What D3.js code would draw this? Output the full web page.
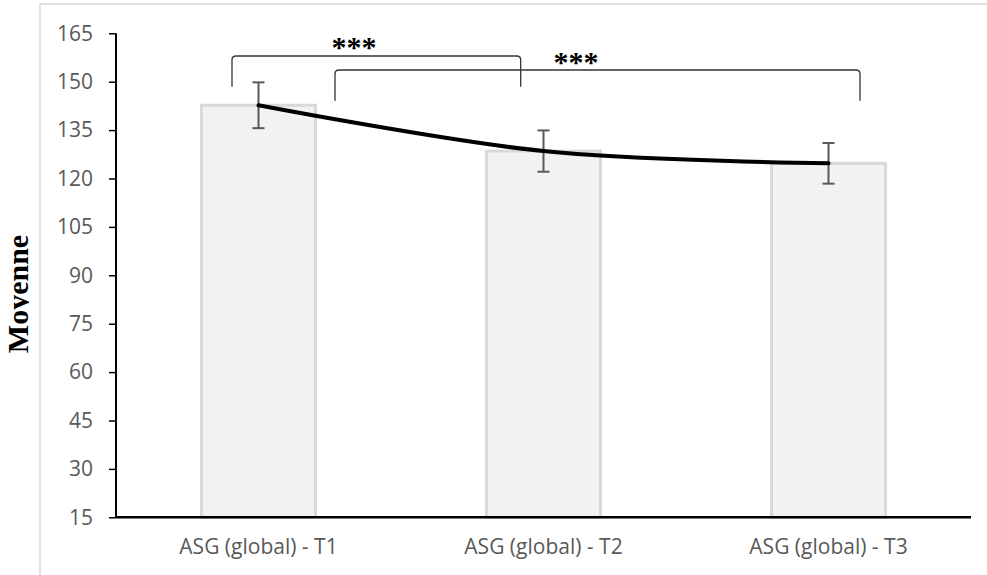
<!DOCTYPE html>
<html>
<head>
<meta charset="utf-8">
<script src="https://cdn.jsdelivr.net/npm/d3@7"></script>
<style>
  html, body { margin: 0; padding: 0; background: #ffffff; }
  svg { display: block; }
</style>
</head>
<body>
<svg id="chart" width="987" height="575"></svg>
<script>
// ---- data ----
const categories = ["ASG (global) - T1", "ASG (global) - T2", "ASG (global) - T3"];
const means = [142.7, 128.5, 124.7];
const errors = [7.1, 6.4, 6.3];
const yTicks = [15, 30, 45, 60, 75, 90, 105, 120, 135, 150, 165];
const brackets = [
  { from: 0, to: 1, label: "***" },
  { from: 0, to: 2, label: "***" }
];
const yTitle = "Moyenne";

// ---- layout ----
const svg = d3.select("#chart");
const plotLeft = 116, plotRight = 971, plotTop = 33.3, plotBottom = 517.3;

// outer chart border
svg.append("rect").attr("x", 40).attr("y", 4).attr("width", 1000).attr("height", 700)
  .attr("fill", "#fff").attr("stroke", "#d9d9d9").attr("stroke-width", 1.5);

const x = d3.scaleBand().domain(categories).range([plotLeft, plotRight]).padding(0);
const y = d3.scaleLinear().domain([15, 165]).range([plotBottom, plotTop]);
const cx = c => x(c) + x.bandwidth() / 2;
const barW = x.bandwidth() * 0.40;

// bars
svg.append("g").selectAll("rect").data(categories).join("rect")
  .attr("x", d => cx(d) - barW / 2)
  .attr("width", barW)
  .attr("y", (d, i) => y(means[i]))
  .attr("height", (d, i) => y(15) - y(means[i]))
  .attr("fill", "#f2f2f2")
  .attr("stroke", "#d9d9d9")
  .attr("stroke-width", 3);

// error bars
const eb = svg.append("g").attr("stroke", "#595959").attr("stroke-width", 2);
categories.forEach((c, i) => {
  const xc = cx(c), y1 = y(means[i] + errors[i]), y2 = y(means[i] - errors[i]);
  eb.append("line").attr("x1", xc).attr("x2", xc).attr("y1", y1).attr("y2", y2);
  eb.append("line").attr("x1", xc - 6).attr("x2", xc + 6).attr("y1", y1).attr("y2", y1);
  eb.append("line").attr("x1", xc - 6).attr("x2", xc + 6).attr("y1", y2).attr("y2", y2);
});

// smoothed line through means
const line = d3.line().x((d, i) => cx(categories[i])).y(d => y(d)).curve(d3.curveCatmullRom.alpha(0));
svg.append("path").attr("d", line(means)).attr("fill", "none")
  .attr("stroke", "#000").attr("stroke-width", 4).attr("stroke-linecap", "round");

// y axis
const yAxis = d3.axisLeft(y).tickValues(yTicks).tickSize(7).tickPadding(16).tickFormat(d3.format("d"));
const gy = svg.append("g").attr("transform", `translate(${plotLeft},0)`).call(yAxis);
gy.select(".domain").attr("stroke", "#000").attr("stroke-width", 2).attr("d", `M0,${plotTop}V${plotBottom}`);
gy.selectAll(".tick line").attr("stroke", "#000").attr("stroke-width", 1.5);
gy.selectAll(".tick text").attr("fill", "#595959").attr("font-family", "'Open Sans', sans-serif")
  .attr("font-size", 21);

// x axis
const xAxis = d3.axisBottom(x).tickSize(0).tickPadding(22);
const gx = svg.append("g").attr("transform", `translate(0,${plotBottom})`).call(xAxis);
gx.select(".domain").attr("stroke", "#000").attr("stroke-width", 2.5).attr("d", `M${plotLeft},0H${plotRight}`);
gx.selectAll(".tick text").attr("fill", "#595959").attr("font-family", "'Open Sans', sans-serif")
  .attr("font-size", 21);

// significance brackets
const bspec = [
  { l: -26.5, r: -22.8, topY: 56, legY: 86.7, starX: 354, starY: 57 },
  { l: 76.5, r: 31.5, topY: 70, legY: 100.7, starX: 576, starY: 72 }
];
brackets.forEach((b, k) => {
  const s = bspec[k];
  const xl = cx(categories[b.from]) + s.l, xr = cx(categories[b.to]) + s.r, r = 4;
  const p = d3.path();
  p.moveTo(xl, s.legY);
  p.lineTo(xl, s.topY + r);
  p.quadraticCurveTo(xl, s.topY, xl + r, s.topY);
  p.lineTo(xr - r, s.topY);
  p.quadraticCurveTo(xr, s.topY, xr, s.topY + r);
  p.lineTo(xr, s.legY);
  svg.append("path").attr("d", p.toString()).attr("fill", "none")
    .attr("stroke", "#333").attr("stroke-width", 1.3);
  svg.append("text").attr("x", s.starX).attr("y", s.starY).attr("text-anchor", "middle")
    .attr("font-family", "'Liberation Serif', 'Times New Roman', serif").attr("font-weight", "bold")
    .attr("font-size", 30).attr("fill", "#000").text(b.label);
});

// y axis title (descender clipped as in the reference)
svg.append("defs").append("clipPath").attr("id", "yclip")
  .append("rect").attr("x", 0).attr("y", 150).attr("width", 29).attr("height", 300);
svg.append("g").attr("clip-path", "url(#yclip)")
  .append("text")
  .attr("transform", "translate(28,294) rotate(-90)")
  .attr("text-anchor", "middle")
  .attr("font-family", "'Liberation Serif', 'Times New Roman', serif")
  .attr("font-weight", "bold").attr("font-size", 30).attr("fill", "#000")
  .text(yTitle);
</script>
</body>
</html>
